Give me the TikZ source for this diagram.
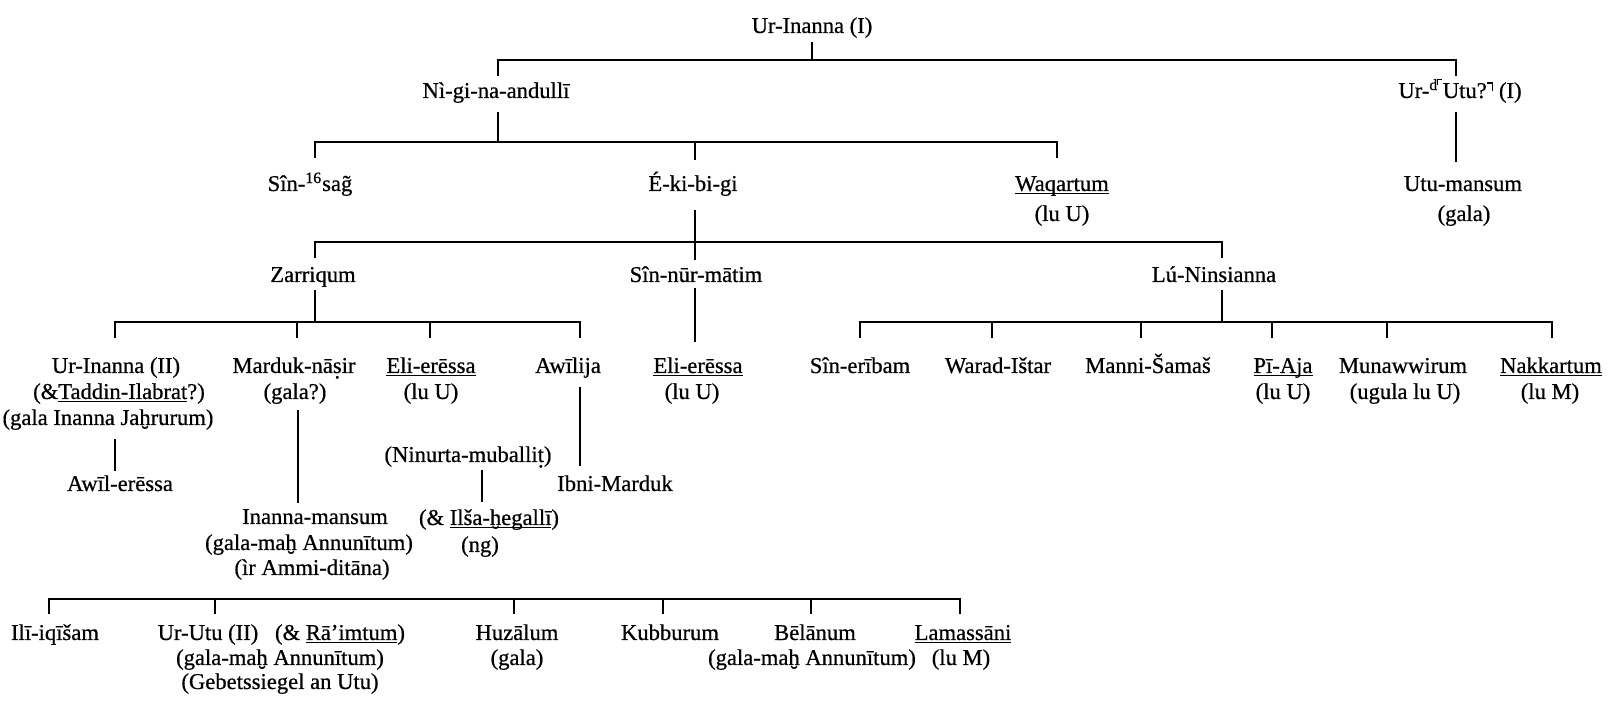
\documentclass[tikz,border=0pt]{standalone}
\usepackage{fontspec}
\setmainfont{Liberation Serif}[FakeBold=0.6]
% letters with marks below or above, built from the font's own accents
\newcommand\dotbelow[1]{{\ooalign{#1\cr\hidewidth\raisebox{-0.24em}[0pt][0pt]{.}\hidewidth\cr}}}
\newcommand\brevebelow[1]{{\ooalign{#1\cr\hidewidth\raisebox{-0.72em}[0pt][0pt]{\char"02D8}\hidewidth\cr}}}
\newcommand\gtilde{{\ooalign{g\cr\hidewidth\char"02DC\hidewidth\cr}}}
% half brackets
\newcommand\hbl{\rule[0.3em]{0.07em}{0.4em}\rule[0.63em]{0.22em}{0.07em}}
\newcommand\hbr{\rule[0.63em]{0.22em}{0.07em}\rule[0.3em]{0.07em}{0.4em}}
% a thin underline set just below the baseline
\newcommand\ul[1]{\sbox0{#1}\rlap{\rule[-0.13em]{\wd0}{0.055em}}\usebox0}
\newcommand\fs{\fontsize{11.3}{13}\selectfont}
\begin{document}
\begin{tikzpicture}[x=0.5pt,y=-0.5pt,
  lbl/.style={inner sep=0pt,anchor=base,font=\fs},
  link/.style={line width=0.9pt}]
\fill[white] (0,0) rectangle (1607,704);
\useasboundingbox (0,0) rectangle (1607,704);

% ---- generation I
\node[lbl] (ui1) at (812,33) {Ur-Inanna (I)};
\node[lbl] (ngna) at (496,98) {Nì-gi-na-andullī};
\node[lbl] (urut) at (1460,98) {Ur-\textsuperscript{d\hbl}Utu?\hbr{} (I)};
% ---- generation II
\node[lbl] (sins) at (310,191) {Sîn-\textsuperscript{16}sa\gtilde};
\node[lbl] (ekib) at (693,191) {É-ki-bi-gi};
\node[lbl] (waq) at (1062,191) {\ul{Waqartum}};
\node[lbl] (waq2) at (1062,221) {(lu U)};
\node[lbl] (utum) at (1463,191) {Utu-mansum};
\node[lbl] (utum2) at (1464,221) {(gala)};
% ---- generation III
\node[lbl] (zar) at (313,282) {Zarriqum};
\node[lbl] (snm) at (696,282) {Sîn-nūr-mātim};
\node[lbl] (lun) at (1214,282) {Lú-Ninsianna};
% ---- generation IV
\node[lbl] (ui2) at (116,373) {Ur-Inanna (II)};
\node[lbl] (ui2b) at (119,399) {(\&\ul{Taddin-Ilabrat}?)};
\node[lbl] (ui2c) at (108,425) {(gala Inanna Ja\brevebelow{h}rurum)};
\node[lbl] (mn) at (294,373) {Marduk-nā\dotbelow{s}ir};
\node[lbl] (mn2) at (295,399) {(gala?)};
\node[lbl] (ee1) at (431,373) {\ul{Eli-erēssa}};
\node[lbl] (ee1b) at (431,399) {(lu U)};
\node[lbl] (awi) at (568,373) {Awīlija};
\node[lbl] (ee2) at (698,373) {\ul{Eli-erēssa}};
\node[lbl] (ee2b) at (692,399) {(lu U)};
\node[lbl] (seri) at (860,373) {Sîn-erībam};
\node[lbl] (wari) at (998,373) {Warad-Ištar};
\node[lbl] (mans) at (1148,373) {Manni-Šamaš};
\node[lbl] (piaj) at (1283,373) {\ul{Pī-Aja}};
\node[lbl] (piaj2) at (1283,399) {(lu U)};
\node[lbl] (munw) at (1403,373) {Munawwirum};
\node[lbl] (munw2) at (1405,399) {(ugula lu U)};
\node[lbl] (nakk) at (1551,373) {\ul{Nakkartum}};
\node[lbl] (nakk2) at (1550,399) {(lu M)};
% ---- generation V
\node[lbl] (awil) at (120,491) {Awīl-erēssa};
\node[lbl] (ninu) at (468,462) {(Ninurta-muballi\dotbelow{t})};
\node[lbl] (ibni) at (615,491) {Ibni-Marduk};
\node[lbl] (inma) at (315,524) {Inanna-mansum};
\node[lbl] (inma2) at (309,550) {(gala-ma\brevebelow{h} Annunītum)};
\node[lbl] (inma3) at (312,575) {(ìr Ammi-ditāna)};
\node[lbl] (ilsa) at (489,525) {(\& \ul{Ilša-\brevebelow{h}egallī})};
\node[lbl] (ilsa2) at (480,552) {(ng)};
% ---- generation VI
\node[lbl] (iliq) at (55,640) {Ilī-iqīšam};
\node[lbl] (urut2) at (208,640) {Ur-Utu (II)};
\node[lbl] (raim) at (340,640) {(\& \ul{Rā’imtum})};
\node[lbl] (urut2b) at (280,665) {(gala-ma\brevebelow{h} Annunītum)};
\node[lbl] (urut2c) at (280,689) {(Gebetssiegel an Utu)};
\node[lbl] (huza) at (517,640) {Huzālum};
\node[lbl] (huza2) at (517,665) {(gala)};
\node[lbl] (kubb) at (670,640) {Kubburum};
\node[lbl] (bela) at (815,640) {Bēlānum};
\node[lbl] (bela2) at (812,665) {(gala-ma\brevebelow{h} Annunītum)};
\node[lbl] (lama) at (963,640) {\ul{Lamassāni}};
\node[lbl] (lama2) at (961,665) {(lu M)};

% ---- levels of the sibling bars
\coordinate (bar1) at (0,60);
\coordinate (bar2) at (0,142);
\coordinate (bar3) at (0,242);
\coordinate (bar4) at (0,322);
\coordinate (bar5) at (0,599);

% ---- line ends above (-t) and below (-b) the names
\coordinate (ui1-b) at (812,42);
\coordinate (ngna-t) at (498,76);   \coordinate (ngna-b) at (498,112);
\coordinate (urut-t) at (1456,76);  \coordinate (urut-b) at (1456,112);
\coordinate (sins-t) at (315,158);
\coordinate (ekib-t) at (695,160);  \coordinate (ekib-b) at (695,210);
\coordinate (waq-t) at (1057,158);
\coordinate (utum-t) at (1456,162);
\coordinate (zar-t) at (315,258);   \coordinate (zar-b) at (315,290);
\coordinate (snm-t) at (695,260);   \coordinate (snm-b) at (695,288);
\coordinate (lun-t) at (1222,258);  \coordinate (lun-b) at (1222,290);
\coordinate (ui2-t) at (115,338);   \coordinate (ui2-b) at (115,439);
\coordinate (mn-t) at (297,338);    \coordinate (mn-b) at (298,410);
\coordinate (ee1-t) at (430,338);
\coordinate (awi-t) at (580,338);   \coordinate (awi-b) at (580,387);
\coordinate (ee2-t) at (695,342);
\coordinate (seri-t) at (860,338);
\coordinate (wari-t) at (992,338);
\coordinate (mans-t) at (1141,338);
\coordinate (piaj-t) at (1272,338);
\coordinate (munw-t) at (1387,338);
\coordinate (nakk-t) at (1552,338);
\coordinate (awil-t) at (115,471);
\coordinate (inma-t) at (298,503);
\coordinate (ibni-t) at (580,466);
\coordinate (ninu-b) at (482,470);  \coordinate (ilsa-t) at (482,502);
\coordinate (iliq-t) at (49,614);
\coordinate (urut2-t) at (215,614);
\coordinate (huza-t) at (514,614);
\coordinate (kubb-t) at (663,614);
\coordinate (bela-t) at (811,614);
\coordinate (lama-t) at (960,614);

% ---- family lines
\draw[link] (ui1-b) -- (ui1-b |- bar1);
\draw[link] (ngna-t) -- (ngna-t |- bar1) -- (urut-t |- bar1) -- (urut-t);

\draw[link] (ngna-b) -- (ngna-b |- bar2);
\draw[link] (sins-t) -- (sins-t |- bar2) -- (waq-t |- bar2) -- (waq-t);
\draw[link] (ekib-t) -- (ekib-t |- bar2);
\draw[link] (urut-b) -- (utum-t);

\draw[link] (ekib-b) -- (ekib-b |- bar3);
\draw[link] (zar-t) -- (zar-t |- bar3) -- (lun-t |- bar3) -- (lun-t);
\draw[link] (snm-t) -- (snm-t |- bar3);

\draw[link] (zar-b) -- (zar-b |- bar4);
\draw[link] (ui2-t) -- (ui2-t |- bar4) -- (awi-t |- bar4) -- (awi-t);
\draw[link] (mn-t) -- (mn-t |- bar4);
\draw[link] (ee1-t) -- (ee1-t |- bar4);
\draw[link] (snm-b) -- (ee2-t);
\draw[link] (lun-b) -- (lun-b |- bar4);
\draw[link] (seri-t) -- (seri-t |- bar4) -- (nakk-t |- bar4) -- (nakk-t);
\draw[link] (wari-t) -- (wari-t |- bar4);
\draw[link] (mans-t) -- (mans-t |- bar4);
\draw[link] (piaj-t) -- (piaj-t |- bar4);
\draw[link] (munw-t) -- (munw-t |- bar4);

\draw[link] (ui2-b) -- (awil-t);
\draw[link] (mn-b) -- (inma-t);
\draw[link] (awi-b) -- (ibni-t);
\draw[link] (ninu-b) -- (ilsa-t);

\draw[link] (iliq-t) -- (iliq-t |- bar5) -- (lama-t |- bar5) -- (lama-t);
\draw[link] (urut2-t) -- (urut2-t |- bar5);
\draw[link] (huza-t) -- (huza-t |- bar5);
\draw[link] (kubb-t) -- (kubb-t |- bar5);
\draw[link] (bela-t) -- (bela-t |- bar5);
\end{tikzpicture}
\end{document}
